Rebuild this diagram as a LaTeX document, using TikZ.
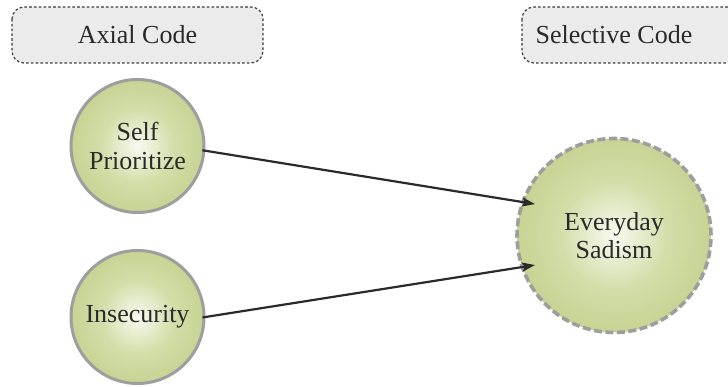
\documentclass[tikz,border=0pt]{standalone}
\usepackage{fontspec}
\setmainfont{Liberation Serif}
\usetikzlibrary{arrows.meta,calc}
\definecolor{boxfill}{HTML}{EBEBEB}
\definecolor{boxline}{HTML}{3A3A3A}
\definecolor{ringgray}{HTML}{9E9E9E}
\definecolor{ballouter}{HTML}{ADBB65}
\definecolor{ballmid}{HTML}{D3DDA8}
\definecolor{ballinner}{HTML}{F8FAF0}
\definecolor{txt}{HTML}{2A2A2A}
\pgfdeclareradialshading{ball}{\pgfpoint{0bp}{0bp}}{color(0bp)=(ballinner); color(14bp)=(ballmid); color(50bp)=(ballouter); color(100bp)=(ballouter)}
\tikzset{
  codebox/.style={fill=boxfill, draw=boxline, line width=1.2pt, dash pattern=on 2.6pt off 2.2pt, rounded corners=12pt},
  boxtext/.style={text=txt, font=\fontsize{26}{29}\selectfont, inner sep=0pt},
  ballnode/.style={circle, shading=ball, draw=ringgray, line width=3pt, minimum size=133pt, inner sep=0pt, align=center, text=txt, font=\fontsize{26}{28.5}\selectfont},
  selball/.style={ballnode, line width=3.6pt, dash pattern=on 8pt off 3.5pt, minimum size=194pt},
  link/.style={draw=txt, line width=2.2pt, -{Stealth[length=13pt,width=9pt,inset=2.5pt]}}
}
\begin{document}
\begin{tikzpicture}[x=1pt,y=1pt]
\useasboundingbox (0,0) rectangle (728,387);
\clip (0,0) rectangle (728,387);
% header boxes
\path[codebox] (12,380) rectangle (263,324);
\node[boxtext] (axial) at (137.5,352) {Axial Code};
\path[codebox] (522,380) rectangle (770,324);
\node[boxtext] (selective) at (614,352) {Selective Code};
% circles
\node[ballnode] (sp) at (137.5,241) {Self\\Prioritize};
\node[ballnode] (in) at (137.5,70) {Insecurity};
\node[selball] (es) at (614,151.5) {Everyday\\Sadism};
% end points inside the selective circle
\coordinate (tipA) at ($(es.center)+(158.3:85)$);
\coordinate (tipB) at ($(es.center)+(200.5:84.3)$);
\draw[link, shorten <=-3pt] (sp.-4.7) -- (tipA);
\draw[link, shorten <=-3pt] (in.0.8) -- (tipB);
\end{tikzpicture}
\end{document}
